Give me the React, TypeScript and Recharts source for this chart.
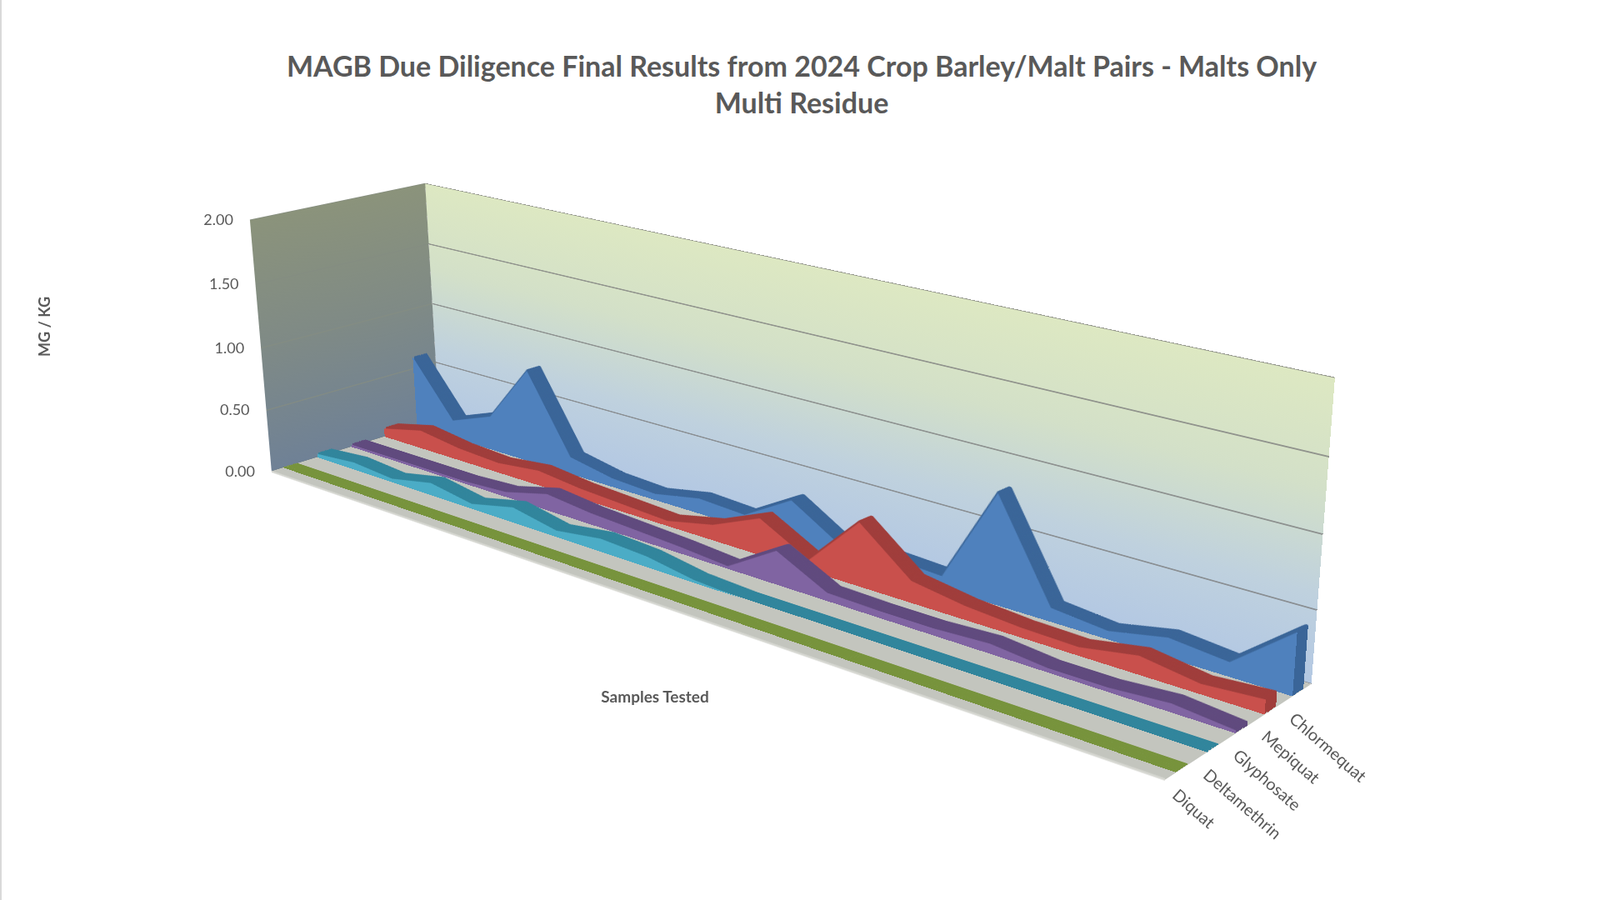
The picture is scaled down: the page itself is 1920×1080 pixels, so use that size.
import React from 'react';
import { AreaChart, Area, XAxis, YAxis, CartesianGrid } from 'recharts';

// ---------------- data ----------------
const samples = ['1', '2', '3', '4', '5', '6', '7', '8', '9', '10', '11', '12', '13', '14', '15', '16', '17', '18', '19'];
const chlormequat = [0.6, 0.15, 0.28, 0.75, 0.14, 0.07, 0.05, 0.12, 0.1, 0.32, 0.09, 0.11, 0.09, 0.8, 0.1, 0.06, 0.14, 0.1, 0.43];
const mepiquat = [0.07, 0.15, 0.1, 0.08, 0.12, 0.08, 0.06, 0.04, 0.12, 0.28, 0.08, 0.47, 0.16, 0.1, 0.07, 0.06, 0.13, 0.07, 0.1];
const glyphosate = [0.02, 0.02, 0.02, 0.02, 0.04, 0.13, 0.09, 0.07, 0.05, 0.02, 0.25, 0.06, 0.05, 0.05, 0.07, 0.03, 0.03, 0.06, 0.02];
const deltamethrin = [0.03, 0.06, 0.03, 0.1, 0.04, 0.12, 0.05, 0.1, 0.08, 0.02, 0, 0, 0, 0, 0, 0, 0, 0, 0];
const diquat = [0, 0, 0, 0, 0, 0, 0, 0, 0, 0, 0, 0, 0, 0, 0, 0, 0, 0, 0];
const seriesKeys = ['diquat', 'deltamethrin', 'glyphosate', 'mepiquat', 'chlormequat'];
const seriesNames = ['Diquat', 'Deltamethrin', 'Glyphosate', 'Mepiquat', 'Chlormequat'];
const frontColors = ['#9BBB59', '#4BACC6', '#8064A2', '#C9504C', '#4F81BD'];
const topColors = ['#77933C', '#31859C', '#604A7E', '#A03D3B', '#3A6598'];
const yTicks = [0, 0.5, 1, 1.5, 2];

const data = samples.map((s, i) => ({
  sample: s,
  chlormequat: chlormequat[i],
  mepiquat: mepiquat[i],
  glyphosate: glyphosate[i],
  deltamethrin: deltamethrin[i],
  diquat: diquat[i],
}));

// ---------------- 3D layout ----------------
const XW = 1000; // sample axis length (world px)
const YH = 400; // value axis height (world px)
const ZD = 500; // depth (world px), 0 = front
const NC = 10; // slab layers

type V3 = [number, number, number];
const anchors: { w: V3; s: [number, number] }[] = [
  { w: [0, YH, 0], s: [324, 566] },
  { w: [XW, YH, 0], s: [1396, 936] },
  { w: [XW, YH, ZD], s: [1572, 820] },
  { w: [0, YH, ZD], s: [525, 504] },
  { w: [0, 0, 0], s: [298, 263] },
  { w: [0, 0, ZD], s: [508, 220] },
  { w: [XW, 0, ZD], s: [1600, 453] },
];

function solveLinear(N: number[][]): number[] {
  const n = N.length;
  for (let c = 0; c < n; c++) {
    let piv = c;
    for (let r = c + 1; r < n; r++) if (Math.abs(N[r][c]) > Math.abs(N[piv][c])) piv = r;
    const tmp = N[c];
    N[c] = N[piv];
    N[piv] = tmp;
    for (let r = 0; r < n; r++) {
      if (r === c) continue;
      const f = N[r][c] / N[c][c];
      for (let k = c; k <= n; k++) N[r][k] -= f * N[c][k];
    }
  }
  return N.map((row, i) => row[n] / row[i]);
}

function fitCamera(): number[][] {
  const S = 1000;
  const rows: number[][] = [];
  const rhs: number[] = [];
  for (const a of anchors) {
    const X = a.w[0] / S, Y = a.w[1] / S, Z = a.w[2] / S;
    const u = a.s[0] / S, v = a.s[1] / S;
    rows.push([X, Y, Z, 1, 0, 0, 0, 0, -u * X, -u * Y, -u * Z]);
    rhs.push(u);
    rows.push([0, 0, 0, 0, X, Y, Z, 1, -v * X, -v * Y, -v * Z]);
    rhs.push(v);
  }
  const n = 11;
  const N: number[][] = [];
  for (let i = 0; i < n; i++) {
    const row = new Array(n + 1).fill(0);
    for (let r = 0; r < rows.length; r++) {
      for (let j = 0; j < n; j++) row[j] += rows[r][i] * rows[r][j];
      row[n] += rows[r][i] * rhs[r];
    }
    N.push(row);
  }
  const p = solveLinear(N);
  return [
    [p[0], p[1], p[2], S * p[3]],
    [p[4], p[5], p[6], S * p[7]],
    [p[8] / S, p[9] / S, p[10] / S, 1],
  ];
}

const CAM = fitCamera();
const CAM4 = [CAM[0], CAM[1], [0, 0, 0.001, 0], CAM[2]];

function project(x: number, y: number, z: number): [number, number] {
  const w = CAM[2][0] * x + CAM[2][1] * y + CAM[2][2] * z + CAM[2][3];
  const u = CAM[0][0] * x + CAM[0][1] * y + CAM[0][2] * z + CAM[0][3];
  const v = CAM[1][0] * x + CAM[1][1] * y + CAM[1][2] * z + CAM[1][3];
  return [u / w, v / w];
}

function mul(a: number[][], b: number[][]): number[][] {
  const r: number[][] = [];
  for (let i = 0; i < 4; i++) {
    r.push([]);
    for (let j = 0; j < 4; j++) {
      let s = 0;
      for (let k = 0; k < 4; k++) s += a[i][k] * b[k][j];
      r[i].push(s);
    }
  }
  return r;
}

function toCss(T: number[][]): string {
  const M = mul(CAM4, T);
  const vals: number[] = [];
  for (let c = 0; c < 4; c++) for (let r = 0; r < 4; r++) vals.push(M[r][c]);
  return `matrix3d(${vals.map((v) => v.toPrecision(10)).join(',')})`;
}

const planeZ = (z: number) => [
  [1, 0, 0, 0],
  [0, 1, 0, 0],
  [0, 0, 1, z],
  [0, 0, 0, 1],
];
const planeFloor = [
  [1, 0, 0, 0],
  [0, 0, 1, YH],
  [0, 1, 0, 0],
  [0, 0, 0, 1],
];
const planeSide = [
  [0, 0, 1, 0],
  [0, 1, 0, 0],
  [1, 0, 0, 0],
  [0, 0, 0, 1],
];

function Plane({ T, w, h, bg, children }: { T: number[][]; w: number; h: number; bg?: string; children?: React.ReactNode }) {
  return (
    <div
      style={{
        position: 'absolute',
        left: 0,
        top: 0,
        width: w,
        height: h,
        transformOrigin: '0 0',
        transform: toCss(T),
        background: bg,
      }}
    >
      {children}
    </div>
  );
}

const M0 = { top: 0, right: 0, bottom: 0, left: 0 };

// invisible carrier series so that axes / grid get a domain in charts that show no marks
const carrier = <Area dataKey="diquat" fill="none" stroke="none" isAnimationActive={false} dot={false} activeDot={false} />;

function SeriesFace({ dataKey, fill, stroke }: { dataKey: string; fill: string; stroke?: string }) {
  return (
    <AreaChart width={XW} height={YH} data={data} margin={M0}>
      <XAxis dataKey="sample" hide />
      <YAxis domain={[0, 2]} hide />
      <Area
        type="linear"
        dataKey={dataKey}
        fill={fill}
        fillOpacity={1}
        stroke={stroke ?? 'none'}
        strokeWidth={stroke ? 4 : 0}
        strokeLinejoin="round"
        isAnimationActive={false}
        dot={false}
        activeDot={false}
      />
    </AreaChart>
  );
}

function GridFace({ w, stroke }: { w: number; stroke: string }) {
  return (
    <AreaChart width={w} height={YH} data={data} margin={M0}>
      <XAxis dataKey="sample" hide />
      <YAxis domain={[0, 2]} ticks={yTicks} hide />
      <CartesianGrid vertical={false} stroke={stroke} strokeWidth={1.6} />
      {carrier}
    </AreaChart>
  );
}

const FONT = 'Lato, "Open Sans", sans-serif';

function YTick(props: any) {
  const { y, payload } = props;
  const [sx, sy] = project(0, y, 0);
  return (
    <text x={sx - 20} y={sy} dy={6} textAnchor="end" fill="#595959" fontSize={18} fontFamily={FONT}>
      {Number(payload.value).toFixed(2)}
    </text>
  );
}

export default function App() {
  const slot = ZD / seriesKeys.length;
  const slabs: React.ReactNode[] = [];
  for (let k = seriesKeys.length - 1; k >= 0; k--) {
    const z0 = slot * k + slot * 0.3;
    const z1 = slot * k + slot * 0.7;
    for (let c = 0; c < NC; c++) {
      const z = z1 - ((z1 - z0) * c) / NC;
      slabs.push(
        <Plane key={`${k}-${c}`} T={planeZ(z)} w={XW} h={YH}>
          <SeriesFace dataKey={seriesKeys[k]} fill={topColors[k]} stroke={topColors[k]} />
        </Plane>
      );
    }
    slabs.push(
      <Plane key={`${k}-front`} T={planeZ(z0)} w={XW} h={YH}>
        <SeriesFace dataKey={seriesKeys[k]} fill={frontColors[k]} />
      </Plane>
    );
  }

  const labelPts = seriesNames.map((_, k) => project(XW, YH, slot * k + slot / 2));

  return (
    <div
      style={{
        position: 'absolute',
        left: 0,
        top: 0,
        width: 1920,
        height: 1080,
        background: '#ffffff',
        overflow: 'hidden',
        borderLeft: '2px solid #d9d9d9',
        boxSizing: 'border-box',
        fontFamily: FONT,
      }}
    >
      <style>{'.overlay svg{overflow:visible}'}</style>
      {/* title */}
      <div
        style={{
          position: 'absolute',
          left: 0,
          top: 57,
          width: 1920,
          textAlign: 'center',
          color: '#595959',
          fontWeight: 700,
          fontSize: 34,
          lineHeight: '44px',
          fontFamily: FONT,
        }}
      >
        <div>MAGB Due Diligence Final Results from 2024 Crop Barley/Malt Pairs - Malts Only</div>
        <div>Multi Residue</div>
      </div>

      {/* walls and floor */}
      <Plane T={planeZ(ZD)} w={XW} h={YH} bg="linear-gradient(to bottom, #dde8c2 0%, #d3e0c8 35%, #bfd1de 70%, #b3c8e3 100%)">
        <GridFace w={XW} stroke="#7a7a7a" />
      </Plane>
      <Plane T={planeSide} w={ZD} h={YH} bg="linear-gradient(to bottom, #8b937b 0%, #7f8a86 50%, #6f8196 100%)">
        <GridFace w={ZD} stroke="#858d82" />
      </Plane>
      <Plane T={planeFloor} w={XW} h={ZD} bg="#c3c5be" />
      <Plane T={planeZ(0)} w={XW} h={YH + 20}>
        <AreaChart width={XW} height={YH + 20} data={data} margin={M0}>
          <XAxis dataKey="sample" height={20} interval={0} tick={false} axisLine={{ stroke: '#d6d7d1', strokeWidth: 3 }} tickLine={{ stroke: '#c8c8c8', strokeWidth: 1.5 }} tickSize={8} />
          <YAxis domain={[0, 2]} hide />
          {carrier}
        </AreaChart>
      </Plane>

      {slabs}

      {/* value axis labels */}
      <div className="overlay" style={{ position: 'absolute', left: 0, top: 0 }}>
        <AreaChart width={XW + 80} height={YH} data={data} margin={M0}>
          <XAxis dataKey="sample" hide />
          <YAxis width={80} domain={[0, 2]} ticks={yTicks} interval={0} axisLine={false} tickLine={false} tick={(p: any) => <YTick {...p} />} />
          {carrier}
        </AreaChart>
      </div>

      {/* series (depth) axis labels */}
      <svg width={1920} height={1080} style={{ position: 'absolute', left: 0, top: 0, pointerEvents: 'none' }}>
        {seriesNames.map((name, k) => {
          const [sx, sy] = labelPts[k];
          const x = sx - 2;
          const y = sy + 22;
          return (
            <text key={name} x={x} y={y} dy="0.75em" transform={`rotate(41 ${x} ${y})`} fill="#595959" fontSize={20} fontFamily={FONT}>
              {name}
            </text>
          );
        })}
      </svg>

      {/* axis titles */}
      <div
        style={{
          position: 'absolute',
          left: 51,
          top: 392,
          transform: 'translate(-50%, -50%) rotate(-90deg)',
          color: '#595959',
          fontWeight: 700,
          fontSize: 18,
          whiteSpace: 'nowrap',
        }}
      >
        MG / KG
      </div>
      <div
        style={{
          position: 'absolute',
          left: 784,
          top: 835,
          transform: 'translate(-50%, -50%)',
          color: '#595959',
          fontWeight: 700,
          fontSize: 19,
          whiteSpace: 'nowrap',
        }}
      >
        Samples Tested
      </div>
    </div>
  );
}
